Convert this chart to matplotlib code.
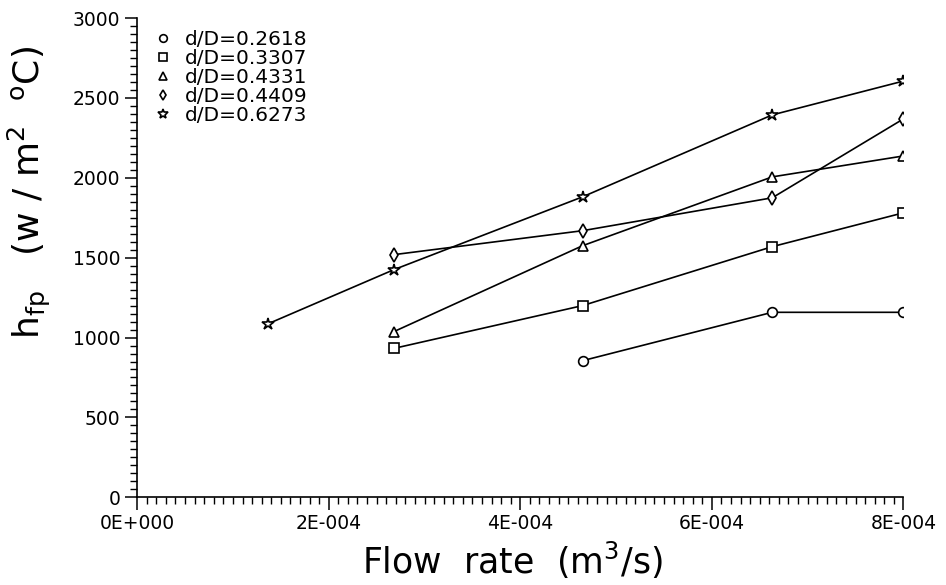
import matplotlib
matplotlib.use('Agg')
import matplotlib.pyplot as plt
from matplotlib.ticker import MultipleLocator, FuncFormatter

plt.rcParams['font.family'] = 'DejaVu Sans'
plt.rcParams['mathtext.default'] = 'regular'

# 流量 (m3/s)
flow = [1.37e-4, 2.68e-4, 4.65e-4, 6.63e-4, 8.0e-4]

# 各 d/D 的 h_fp
h_02618 = [None, None, 855, 1158, 1158]
h_03307 = [None, 932, 1200, 1569, 1781]
h_04331 = [None, 1037, 1575, 2006, 2137]
h_04409 = [None, 1519, 1669, 1875, 2369]
h_06273 = [1087, 1425, 1881, 2394, 2606]

labels = ['d/D=0.2618', 'd/D=0.3307', 'd/D=0.4331', 'd/D=0.4409', 'd/D=0.6273']
markers = ['o', 's', '^', 'd', '*']
series = [h_02618, h_03307, h_04331, h_04409, h_06273]

fig = plt.figure(figsize=(9.46, 5.85), dpi=100)
ax = fig.add_axes([0.145, 0.150, 0.810, 0.819])

handles = []
for ys, m, lab in zip(series, markers, labels):
    xs = [x for x, y in zip(flow, ys) if y is not None]
    yv = [y for y in ys if y is not None]
    ms = 9 if m == '*' else 7
    ax.plot(xs, yv, color='black', lw=1.2, marker=m, ms=ms,
            mfc='white', mec='black', mew=1.2, zorder=3)
    h, = ax.plot([], [], ls='none', marker=m, ms=ms - 1.5, mfc='white',
                 mec='black', mew=1.2, label=lab)
    handles.append(h)

ax.set_xlim(0, 8e-4)
ax.set_ylim(0, 3000)
ax.xaxis.set_major_locator(MultipleLocator(2e-4))
ax.xaxis.set_minor_locator(MultipleLocator(1e-5))
ax.yaxis.set_major_locator(MultipleLocator(500))
ax.yaxis.set_minor_locator(MultipleLocator(50))


def sci_fmt(v, pos):
    if abs(v) < 1e-12:
        return '0E+000'
    exp = int(f'{v:e}'.split('e')[1])
    mant = v / 10 ** exp
    return f'{mant:.0f}E-{abs(exp):03d}'


ax.xaxis.set_major_formatter(FuncFormatter(sci_fmt))

for s in ['top', 'right']:
    ax.spines[s].set_visible(False)
for s in ['left', 'bottom']:
    ax.spines[s].set_linewidth(1.2)

ax.tick_params(which='major', direction='out', length=9, width=1.1,
               labelsize=13.5, pad=3)
ax.tick_params(which='minor', direction='out', length=5, width=1.0)

ax.set_xlabel('Flow  rate  (m$^3$/s)', fontsize=25)
ax.set_ylabel('h$_{fp}$   (w / m$^2$  $^o$C)', fontsize=26)
ax.xaxis.set_label_coords(0.49, -0.088)
ax.yaxis.set_label_coords(-0.11, 0.637)

ax.legend(handles=handles, loc='upper left', frameon=False, fontsize=14.5,
          handlelength=0.6, handletextpad=0.8, labelspacing=0.0,
          borderaxespad=0.2, bbox_to_anchor=(0.01, 1.0))

plt.savefig('out.png', dpi=100)
